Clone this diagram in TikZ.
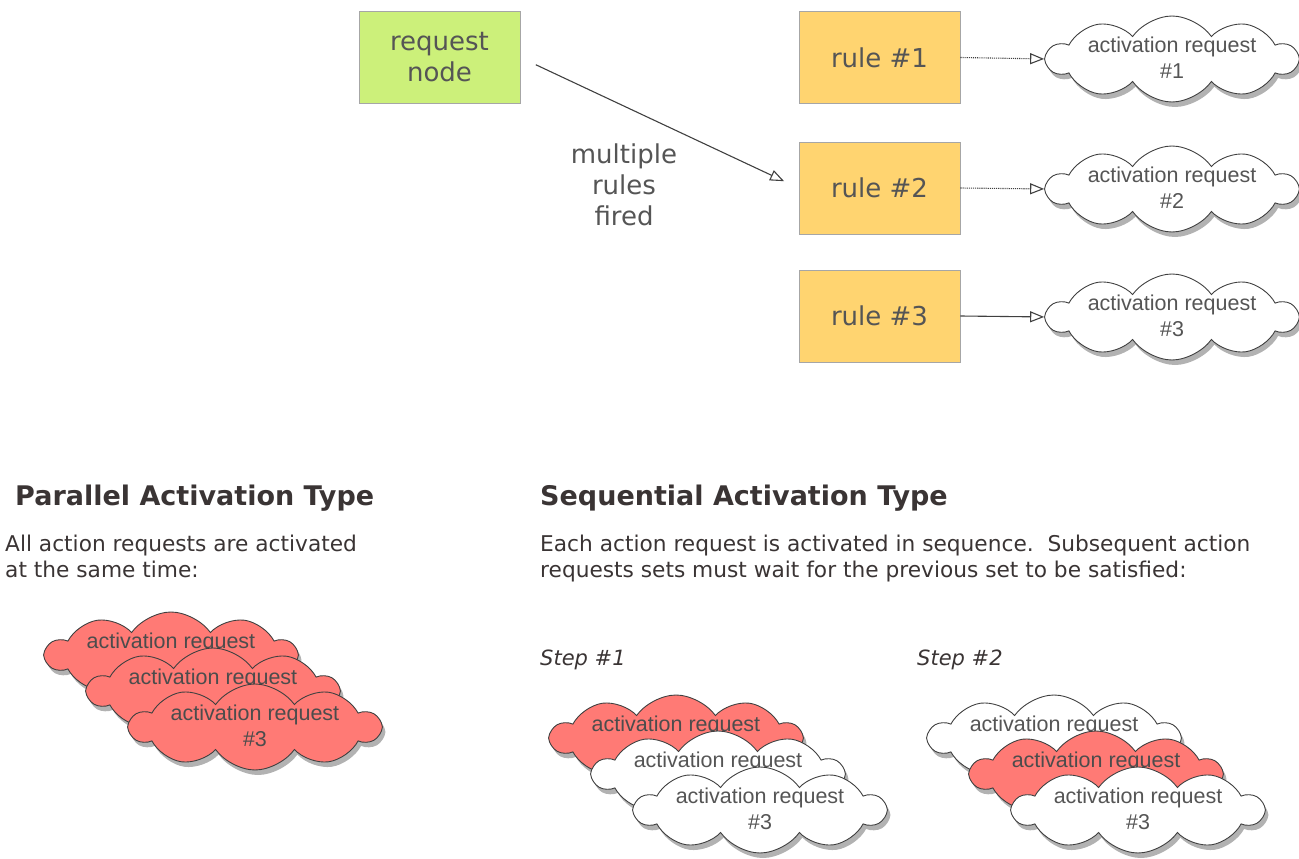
\documentclass[tikz,border=0pt]{standalone}
\usepackage{fontspec}
\setmainfont{DejaVu Sans}
\newfontfamily\cloudfont{Liberation Sans}
\usetikzlibrary{shapes.symbols,shadows,arrows.meta}
\definecolor{boxgreen}{RGB}{204,240,122}
\definecolor{boxorange}{RGB}{255,212,112}
\definecolor{cloudred}{RGB}{255,122,117}
\definecolor{textgray}{RGB}{85,85,85}
\definecolor{bodytext}{RGB}{58,52,52}
\newcommand\ct[2]{\raisebox{-0.3em}[0pt][0pt]{\makebox[0pt]{\begin{tabular}{@{}c@{}}#1\\#2\end{tabular}}}}
\newcommand\cto[1]{\raisebox{-0.3em}[0pt][0pt]{\makebox[0pt]{\begin{tabular}{@{}c@{}}#1\\\phantom{\#1}\end{tabular}}}}
\tikzset{
  rbox/.style={draw=gray!70, line width=0.8pt, minimum width=161pt, minimum height=92pt,
    inner sep=0pt, text=textgray, font=\fontsize{26}{31}\selectfont, align=center},
  acloud/.style={cloud, cloud puffs=10, cloud puff arc=110, cloud ignores aspect,
    minimum width=250pt, minimum height=86pt, inner sep=0pt, draw=black!75,
    line width=0.9pt, fill=white, text=textgray,
    drop shadow={shadow xshift=3pt, shadow yshift=-5pt, opacity=0.3, fill=black},
    font=\cloudfont\fontsize{21.5}{26}\selectfont},
  redcloud/.style={acloud, fill=cloudred, text=black!70},
  conn/.style={draw=gray!50!black, line width=1.1pt, -{Triangle[open,length=14pt,width=11pt]}},
  heading/.style={anchor=base west, inner sep=0pt, text=bodytext, font=\bfseries\fontsize{27}{32}\selectfont},
  body/.style={anchor=base west, inner sep=0pt, text=bodytext, align=left, font=\fontsize{21.7}{26}\selectfont},
  steplabel/.style={anchor=base west, inner sep=0pt, text=bodytext, font=\itshape\fontsize{21}{26}\selectfont}
}
\begin{document}
\begin{tikzpicture}[x=1pt,y=-1pt]
\useasboundingbox (0,0) rectangle (1299,859);
% top part
\node[rbox, fill=boxgreen] (req) at (439.5,57.5) {request\\node};
\node[rbox, fill=boxorange] (r1) at (879.5,57.5) {rule \#1};
\node[rbox, fill=boxorange] (r2) at (879.5,188) {rule \#2};
\node[rbox, fill=boxorange] (r3) at (879.5,316) {rule \#3};
\node[acloud] (c1) at (1172,59) {\ct{activation request}{\#1}};
\node[acloud] (c2) at (1172,189) {\ct{activation request}{\#2}};
\node[acloud] (c3) at (1172,317) {\ct{activation request}{\#3}};
\draw[conn, shorten <=17pt, shorten >=16pt] (req.east) -- (r2.west);
\node[text=textgray, align=center, font=\fontsize{26}{31}\selectfont] (fired) at (624,185) {multiple\\rules\\fired};
\draw[conn, densely dotted] (r1.east) -- (c1.west);
\draw[conn, densely dotted] (r2.east) -- (c2.west);
\draw[conn] (r3.east) -- (c3.west);
% parallel
\node[heading] (ph) at (15,505) {Parallel Activation Type};
\node[body] (pt) at (5,577) {All action requests are activated\\at the same time:};
\node[redcloud] (p1) at (171,655) {\cto{activation request}};
\node[redcloud] (p2) at (213,691) {\cto{activation request}};
\node[redcloud] (p3) at (255,727) {\ct{activation request}{\#3}};
% sequential
\node[heading] (sh) at (540,505) {Sequential Activation Type};
\node[body] (st) at (540,577) {Each action request is activated in sequence.\ \ Subsequent action\\requests sets must wait for the previous set to be satisfied:};
\node[steplabel] (s1) at (540,665) {Step \#1};
\node[steplabel] (s2) at (917,665) {Step \#2};
\node[redcloud] (a1) at (676,738) {\cto{activation request}};
\node[acloud] (a2) at (718,774) {\cto{activation request}};
\node[acloud] (a3) at (760,810) {\ct{activation request}{\#3}};
\node[acloud] (b1) at (1054,738) {\cto{activation request}};
\node[redcloud] (b2) at (1096,774) {\cto{activation request}};
\node[acloud] (b3) at (1138,810) {\ct{activation request}{\#3}};
\end{tikzpicture}
\end{document}
